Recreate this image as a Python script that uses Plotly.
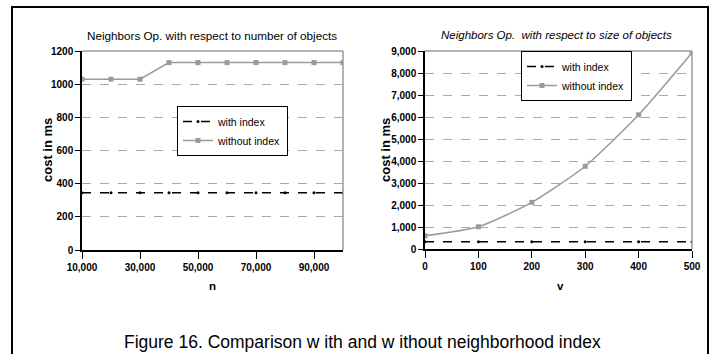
import plotly.graph_objects as go

# ---- data ----
n_values = [10000, 20000, 30000, 40000, 50000, 60000, 70000, 80000, 90000, 100000]
n_with_index = [345, 345, 345, 345, 345, 345, 345, 345, 345, 345]
n_without_index = [1030, 1030, 1030, 1130, 1130, 1130, 1130, 1130, 1130, 1130]

v_values = [0, 100, 200, 300, 400, 500]
v_with_index = [330, 330, 330, 330, 330, 330]
v_without_index = [600, 1010, 2120, 3760, 6100, 8920]

left_title = "Neighbors Op. with respect to number of objects"
right_title = "Neighbors Op.  with respect to size of objects"
caption = "Figure 16. Comparison w ith and w ithout neighborhood index"
y_title = "cost in ms"

NARROW = "Liberation Sans Narrow, Arial Narrow, Liberation Sans, Arial"
GRAY = "#9a9a9a"

fig = go.Figure()

fig.add_trace(go.Scatter(x=n_values, y=n_with_index, name="with index", mode="lines+markers",
                         line=dict(color="black", width=1.5, dash="dash"),
                         marker=dict(color="black", size=3), xaxis="x", yaxis="y", legend="legend"))
fig.add_trace(go.Scatter(x=n_values, y=n_without_index, name="without index", mode="lines+markers",
                         line=dict(color=GRAY, width=1.5),
                         marker=dict(color=GRAY, size=5, symbol="square"), xaxis="x", yaxis="y", legend="legend"))
fig.add_trace(go.Scatter(x=v_values, y=v_with_index, name="with index", mode="lines+markers",
                         line=dict(color="black", width=1.5, dash="dash"),
                         marker=dict(color="black", size=3), xaxis="x2", yaxis="y2", legend="legend2"))
fig.add_trace(go.Scatter(x=v_values, y=v_without_index, name="without index", mode="lines+markers",
                         line=dict(color=GRAY, width=1.5, shape="spline", smoothing=0.6),
                         marker=dict(color=GRAY, size=5, symbol="square"), xaxis="x2", yaxis="y2", legend="legend2"))

tickfont = dict(family=NARROW, size=10, color="black", weight="bold")
W, H = 714, 354

def px_x(p):
    return p / W

def px_y(p):
    return 1 - p / H

common_x = dict(showline=True, linecolor="black", linewidth=1.5, ticks="outside", ticklen=7,
                tickcolor="black", tickfont=tickfont, showgrid=False, zeroline=False,
                mirror=False, automargin=False)
common_y = dict(showline=True, linecolor="black", linewidth=1.5, ticks="outside", ticklen=5,
                tickcolor="black", tickfont=tickfont, showgrid=True, gridcolor="#a8a8a8",
                griddash="dash", gridwidth=1, zeroline=False, automargin=False)

legfont = dict(family=NARROW, size=10.5, color="black")

fig.update_layout(
    width=W, height=H,
    margin=dict(l=0, r=0, t=0, b=0),
    paper_bgcolor="white", plot_bgcolor="white",
    showlegend=True,
    xaxis=dict(common_x, domain=[px_x(82), px_x(343)], range=[10000, 100000],
               tickmode="array", tickvals=[10000, 30000, 50000, 70000, 90000],
               ticktext=["10,000", "30,000", "50,000", "70,000", "90,000"], anchor="y"),
    yaxis=dict(common_y, domain=[px_y(250), px_y(51)], range=[0, 1200], dtick=200, anchor="x"),
    xaxis2=dict(common_x, domain=[px_x(425), px_x(692)], range=[0, 500], dtick=100, anchor="y2"),
    yaxis2=dict(common_y, domain=[px_y(249), px_y(51)], range=[0, 9000], dtick=1000,
                tickformat=",d", anchor="x2"),
    legend=dict(x=px_x(177), y=px_y(106), xanchor="left", yanchor="top",
                bordercolor="black", borderwidth=1, bgcolor="white",
                font=legfont, itemwidth=30, tracegroupgap=0),
    legend2=dict(x=px_x(521), y=px_y(51), xanchor="left", yanchor="top",
                 bordercolor="black", borderwidth=1, bgcolor="white",
                 font=legfont, itemwidth=30, tracegroupgap=0),
)

shapes = []
# plot frame top/right in gray
for (x0, x1, y0, y1) in [(82, 343, 51, 250), (425, 692, 51, 249)]:
    shapes.append(dict(type="line", xref="paper", yref="paper", x0=px_x(x0), x1=px_x(x1),
                       y0=px_y(y0), y1=px_y(y0), line=dict(color=GRAY, width=1.5)))
    shapes.append(dict(type="line", xref="paper", yref="paper", x0=px_x(x1), x1=px_x(x1),
                       y0=px_y(y0), y1=px_y(y1), line=dict(color=GRAY, width=1.5)))
# outer border
shapes.append(dict(type="rect", xref="paper", yref="paper", x0=px_x(12), x1=px_x(708),
                   y0=-0.2, y1=px_y(7), line=dict(color="black", width=2)))
fig.update_layout(shapes=shapes)

ann = [
    dict(text=left_title, x=px_x(212), y=px_y(35), font=dict(family=NARROW, size=11.7, color="black")),
    dict(text="<i>" + right_title + "</i>", x=px_x(556), y=px_y(35),
         font=dict(family=NARROW, size=11.5, color="black")),
    dict(text="<b>" + y_title + "</b>", x=px_x(47), y=px_y(150), textangle=-90,
         font=dict(family=NARROW, size=13, color="black")),
    dict(text="<b>" + y_title + "</b>", x=px_x(385), y=px_y(150), textangle=-90,
         font=dict(family=NARROW, size=13, color="black")),
    dict(text="<b>n</b>", x=px_x(212), y=px_y(286), font=dict(family=NARROW, size=11.5, color="black")),
    dict(text="<b>v</b>", x=px_x(560), y=px_y(286), font=dict(family=NARROW, size=11.5, color="black")),
    dict(text=caption, x=px_x(362), y=px_y(342), font=dict(family="Liberation Sans, Arial", size=17.5, color="black")),
]
for a in ann:
    a.update(xref="paper", yref="paper", showarrow=False, xanchor="center", yanchor="middle")
fig.update_layout(annotations=ann)

fig.write_html("out.html", config={"displayModeBar": False},
               post_script=("document.documentElement.style.margin='0';"
                            "document.body.style.margin='0';"
                            "document.body.style.padding='0';"
                            "document.documentElement.style.overflow='hidden';"
                            "document.body.style.overflow='hidden';"
                            "window.scrollTo(0,0);"))
